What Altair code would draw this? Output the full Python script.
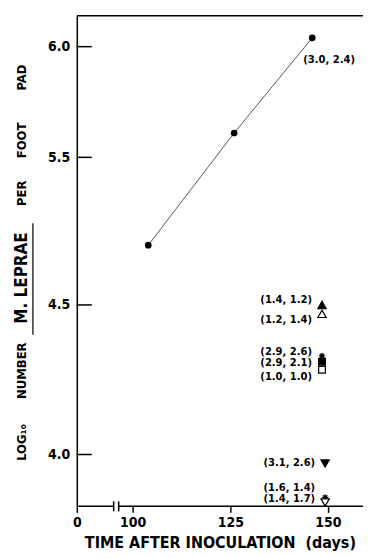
import altair as alt
import pandas as pd

FONT = "DejaVu Sans Condensed, sans-serif"
LBL_FONT = "DejaVu Sans, sans-serif"

# untreated controls: days after inoculation vs log10 M. leprae per foot pad
days = [104, 126, 146]
log_counts = [4.905, 5.61, 6.04]
dot_note = "(3.0, 2.4)"

# treated groups measured at the end
grp_days = [148.5, 148.5, 148.5, 148.5, 148.5, 149.3, 149.3, 149.3]
grp_log = [4.50, 4.47, 4.33, 4.31, 4.283, 3.97, 3.857, 3.84]
grp_shape = ["tri_up", "tri_up", "star", "square", "square", "tri_down", "star", "tri_down"]
grp_filled = [True, False, False, True, False, True, False, False]
grp_note = ["(1.4, 1.2)", "(1.2, 1.4)", "(2.9, 2.6)", "(2.9, 2.1)", "(1.0, 1.0)",
            "(3.1, 2.6)", "(1.6, 1.4)", "(1.4, 1.7)"]
grp_note_log = [4.534, 4.45, 4.343, 4.307, 4.26, 3.97, 3.887, 3.85]

y_ticks = [4.0, 4.5, 5.5, 6.0]
x_ticks = [0, 100, 125, 150]
x_break = [66, 75]

W, H = 287, 492
X_END = 159
xscale = alt.Scale(domain=[0, 100, X_END], range=[0, 56, W], nice=False, zero=False)
yscale = alt.Scale(domain=[3.827, 4.0, 4.5, 5.5, 6.0, 6.14],
                   range=[492, 440, 290, 142, 31, 0], nice=False, zero=False)

shape_paths = {
    "tri_up": "triangle-up",
    "tri_down": "triangle-down",
    "square": "square",
    "star": "M-1,0L1,0M0,-1L0,1M-0.7,-0.7L0.7,0.7M-0.7,0.7L0.7,-0.7",
}
shape_size = {"tri_up": 70, "tri_down": 70, "square": 45, "star": 40}

main = pd.DataFrame({"day": days, "v": log_counts})
grp = pd.DataFrame({
    "day": grp_days, "v": grp_log, "shape": grp_shape,
    "fillc": ["black" if f else "white" for f in grp_filled],
    "sz": [shape_size[s] for s in grp_shape],
    "note": grp_note, "note_v": grp_note_log,
})

xaxis = alt.Axis(values=x_ticks, domain=False, ticks=True, tickSize=6, tickWidth=1.5,
                 tickColor="black", labelFont=FONT, labelFontSize=14, labelFontWeight="bold",
                 labelColor="black", labelPadding=3, labelFlush=False, grid=False,
                 title="TIME AFTER INOCULATION\u00a0 (days)", titleFont=FONT, titleFontSize=16,
                 titleFontWeight="bold", titleColor="black", titlePadding=5)
yaxis = alt.Axis(values=y_ticks, format=".1f", ticks=False, domain=True, domainWidth=1.5,
                 domainColor="black", labelFont=FONT, labelFontSize=14, labelFontWeight="bold",
                 labelColor="black", labelPadding=7, labelFlush=False, grid=False, title=None)

X = lambda f: alt.X(f, type="quantitative", scale=xscale, axis=xaxis)
Y = lambda f: alt.Y(f, type="quantitative", scale=yscale, axis=yaxis)

line = alt.Chart(main).mark_line(color="#444444", strokeWidth=0.9).encode(
    x=X("day"), y=Y("v"))
dots = alt.Chart(main).mark_point(filled=True, shape="circle", size=45, color="black", opacity=1).encode(
    x=X("day"), y=Y("v"))
note_main = alt.Chart(main.tail(1).assign(note=dot_note)).mark_text(
    align="left", baseline="middle", dx=-9, dy=22, font=LBL_FONT, fontSize=10,
    fontWeight="bold", color="black").encode(x=X("day"), y=Y("v"), text="note:N")

markers = alt.Chart(grp).mark_point(stroke="black", strokeWidth=1.2, opacity=1).encode(
    x=X("day"), y=Y("v"),
    shape=alt.Shape("shape:N", scale=alt.Scale(domain=list(shape_paths.keys()),
                                                 range=list(shape_paths.values())), legend=None),
    fill=alt.Fill("fillc:N", scale=None),
    size=alt.Size("sz:Q", scale=None),
)
notes = alt.Chart(grp).mark_text(align="right", baseline="middle", dx=-10, font=LBL_FONT,
                                 fontSize=10, fontWeight="bold", color="black").encode(
    x=X("day"), y=Y("note_v"), text="note:N")

yt = alt.Chart(pd.DataFrame({"v": y_ticks})).mark_rule(color="black", strokeWidth=1.5).encode(
    x=alt.value(0), x2=alt.value(15), y=Y("v"))
top = alt.Chart(pd.DataFrame({"a": [0]})).mark_rule(color="black", strokeWidth=1.5).encode(
    x=alt.value(0), x2=alt.value(W), y=alt.value(0))
segs = alt.Chart(pd.DataFrame({"day": [0, x_break[1]], "b": [x_break[0], X_END]})).mark_rule(
    color="black", strokeWidth=1.5).encode(x=X("day"), x2="b:Q", y=alt.value(H))
brk = alt.Chart(pd.DataFrame({"day": x_break})).mark_rule(color="black", strokeWidth=1.5).encode(
    x=X("day"), y=alt.value(H - 5), y2=alt.value(H + 5))


def vtext(txt, y, size, weight="bold"):
    return alt.Chart(pd.DataFrame({"t": [txt]})).mark_text(
        angle=270, align="center", baseline="middle", font=FONT, fontSize=size,
        fontWeight=weight, color="black").encode(x=alt.value(-55), y=alt.value(y), text="t:N")


title_parts = [
    vtext("LOG\u2081\u2080", 428, 13),
    vtext("NUMBER", 356, 13),
    vtext("M. LEPRAE", 263, 17),
    vtext("PER", 178, 13),
    vtext("FOOT", 125, 13),
    vtext("PAD", 62, 13),
]
underline = alt.Chart(pd.DataFrame({"a": [0]})).mark_rule(color="black", strokeWidth=1.2).encode(
    x=alt.value(-44), y=alt.value(208), y2=alt.value(320))

chart = alt.layer(line, dots, note_main, markers, notes, yt, top, segs, brk, *title_parts, underline).properties(
    width=W, height=H, padding={"left": 5, "top": 6, "right": 0, "bottom": 0}
).configure_view(strokeWidth=0)

chart.save("out.html", embed_options={"renderer": "svg", "actions": False})
